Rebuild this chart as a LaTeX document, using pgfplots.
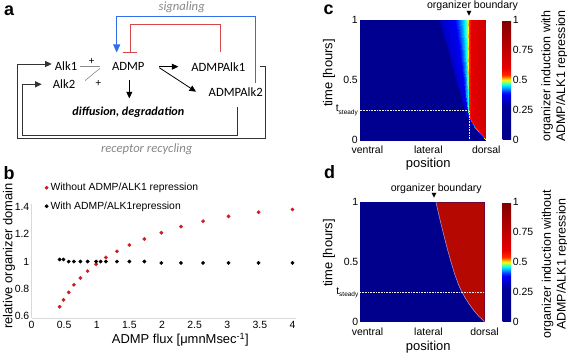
\documentclass[border=0pt]{standalone}
\usepackage{pgfplots}
\pgfplotsset{compat=1.18}
\usepackage{fontspec}
\setmainfont{Liberation Sans}
\newfontfamily\calibri{Carlito}
\newfontfamily\dejavu{DejaVu Sans}
\usetikzlibrary{arrows.meta}
\definecolor{navyc}{RGB}{0,0,140}
\definecolor{redb}{RGB}{205,30,35}
\definecolor{dredd}{RGB}{180,8,0}
\definecolor{bluec}{RGB}{50,110,235}
\definecolor{redc}{RGB}{215,70,70}
\definecolor{grayt}{RGB}{135,135,135}
\definecolor{lav}{RGB}{170,160,230}
\pgfplotsset{colormap={jetx}{rgb255(0pt)=(0,0,140) rgb255(28pt)=(0,0,150) rgb255(33pt)=(0,0,200) rgb255(38pt)=(0,0,245) rgb255(40pt)=(0,40,255) rgb255(46pt)=(0,255,255) rgb255(50pt)=(255,255,0) rgb255(54pt)=(255,40,0) rgb255(60pt)=(230,0,0) rgb255(100pt)=(128,0,0)}}
\newcommand\tl{\fontsize{10.5}{12}\selectfont}
\newcommand\lb{\fontsize{13}{15}\selectfont}
\pgfplotsset{
  mycb/.style={colorbar, colorbar style={at={(parent axis.north east)}, anchor=north west, xshift=#1,
     width=8.7bp, scale only axis, ytick={0,0.25,0.5,0.75,1},
     yticklabel={\pgfmathprintnumber[assume math mode=true]{\tick}},
     yticklabel style={font=\tl, inner sep=1.5bp}, axis line style={draw=none}, major tick length=0}},
  heat/.style={scale only axis, anchor=south west, xmin=0, xmax=1, ymin=0, ymax=1,
     colormap name=jetx, point meta min=0, point meta max=1,
     axis line style={draw=none}, major tick length=0,
     xticklabels={ventral,lateral,dorsal},
     tick label style={font=\tl}, yticklabel style={inner sep=1.5bp},
     xticklabel style={inner sep=0pt, yshift=-6bp}}
}
\begin{document}
\begin{tikzpicture}[x=1bp,y=1bp]
\useasboundingbox (0,0) rectangle (567,355);

% ---------------- panel b ----------------
\begin{axis}[at={(31.5bp,37.3bp)}, anchor=south west, scale only axis,
  width=264.9bp, height=113.7bp,
  xmin=0, xmax=4.06, ymin=0.59, ymax=1.42,
  axis x line*=bottom, axis y line*=left, axis line style={draw=black!15},
  xtick={0,0.5,1,1.5,2,2.5,3,3.5,4}, ytick={0.6,0.8,1,1.2,1.4},
  major tick length=0,
  tick label style={font=\tl},
  xticklabel={\pgfmathprintnumber[assume math mode=true]{\tick}},
  yticklabel={\pgfmathprintnumber[assume math mode=true]{\tick}},
  yticklabel style={inner sep=2bp},
  xlabel={ADMP flux [μmnMsec\textsuperscript{-1}]},
  ylabel={relative organizer domain},
  xlabel style={at={(axis description cs:0.562,-0.196)}, anchor=center, font=\lb},
  ylabel style={at={(axis description cs:-0.085,0.543)}, anchor=center, font=\lb},
  legend image code/.code={\draw[#1] plot coordinates {(0bp,0bp)};},
  legend cell align=left,
  legend style={at={(axis description cs:0.05,1.205)}, anchor=north west, draw=none, fill=none,
     font=\fontsize{10.4}{12}\selectfont, row sep=5bp, inner sep=0pt, nodes={inner sep=2.3bp}},
]
\addplot[only marks, mark=*, mark size=1.7bp, color=redb] coordinates {
(0.43,0.67) (0.49,0.72) (0.57,0.775) (0.65,0.83) (0.75,0.88) (0.86,0.93) (0.99,0.98)
(1.14,1.03) (1.31,1.075) (1.50,1.12) (1.73,1.165) (1.99,1.21) (2.29,1.255) (2.63,1.295)
(3.02,1.33) (3.48,1.36) (4.00,1.38)};
\addplot[only marks, mark=*, mark size=1.7bp, color=black] coordinates {
(0.43,1.015) (0.49,1.015) (0.57,1.0) (0.65,1.0) (0.75,1.0) (0.86,1.0) (0.99,1.0) (1.06,1.0)
(1.14,1.0) (1.31,1.0) (1.50,1.0) (1.73,1.0) (1.99,0.99) (2.29,0.99) (2.63,0.99)
(3.02,0.99) (3.48,0.99) (4.00,0.99)};
\legend{Without ADMP/ALK1 repression, With ADMP/ALK1repression}
\end{axis}

% ---------------- panel c ----------------
\begin{axis}[heat, at={(359.5bp,215bp)}, width=127bp, height=120bp, view={0}{90},
  xtick={0.062,0.542,0.998},
  ytick={0,0.2475,0.5,1}, yticklabels={0,{t\raisebox{-0.4ex}{\fontsize{6.5}{7}\selectfont steady}},0.5,1},
  mycb=7.5bp]
\addplot3[surf, shader=interp, mesh/rows=14, mesh/cols=10, point meta=\thisrow{v}] table[x=x,y=t,z=v] {
x t v
0 1 0.1
0.630 1 0.1
0.633 1 0.33
0.7475 1 0.375
0.800 1 0.43
0.830 1 0.46
0.855 1 0.5
0.862 1 0.54
0.874 1 0.6
1 1 0.7
0 0.9 0.1
0.657 0.9 0.1
0.660 0.9 0.33
0.761 0.9 0.375
0.807 0.9 0.43
0.834 0.9 0.46
0.856 0.9 0.5
0.862 0.9 0.54
0.874 0.9 0.6
1 0.9 0.7
0 0.8 0.1
0.682 0.8 0.1
0.685 0.8 0.33
0.7735 0.8 0.375
0.814 0.8 0.43
0.837 0.8 0.46
0.857 0.8 0.5
0.862 0.8 0.54
0.874 0.8 0.6
1 0.8 0.7
0 0.7 0.1
0.707 0.7 0.1
0.710 0.7 0.33
0.786 0.7 0.375
0.821 0.7 0.43
0.841 0.7 0.46
0.857 0.7 0.5
0.862 0.7 0.54
0.874 0.7 0.6
1 0.7 0.7
0 0.6 0.1
0.732 0.6 0.1
0.735 0.6 0.33
0.7985 0.6 0.375
0.828 0.6 0.43
0.844 0.6 0.46
0.858 0.6 0.5
0.862 0.6 0.54
0.874 0.6 0.6
1 0.6 0.7
0 0.5 0.1
0.759 0.5 0.1
0.762 0.5 0.33
0.812 0.5 0.375
0.835 0.5 0.43
0.848 0.5 0.46
0.859 0.5 0.5
0.862 0.5 0.54
0.874 0.5 0.6
1 0.5 0.7
0 0.4 0.1
0.785 0.4 0.1
0.788 0.4 0.33
0.825 0.4 0.375
0.842 0.4 0.43
0.852 0.4 0.46
0.860 0.4 0.5
0.862 0.4 0.54
0.874 0.4 0.6
1 0.4 0.7
0 0.3 0.1
0.809 0.3 0.1
0.812 0.3 0.33
0.837 0.3 0.375
0.8485 0.3 0.43
0.855 0.3 0.46
0.8605 0.3 0.5
0.862 0.3 0.54
0.874 0.3 0.6
1 0.3 0.7
0 0.25 0.1
0.825 0.25 0.1
0.828 0.25 0.33
0.845 0.25 0.375
0.8528 0.25 0.43
0.8572 0.25 0.46
0.861 0.25 0.5
0.862 0.25 0.54
0.874 0.25 0.6
1 0.25 0.7
0 0.2 0.1
0.845 0.2 0.1
0.848 0.2 0.33
0.856 0.2 0.375
0.8597 0.2 0.43
0.8618 0.2 0.46
0.8635 0.2 0.5
0.864 0.2 0.54
0.876 0.2 0.6
1 0.2 0.7
0 0.15 0.1
0.872 0.15 0.1
0.875 0.15 0.33
0.880 0.15 0.375
0.8823 0.15 0.43
0.8836 0.15 0.46
0.8847 0.15 0.5
0.885 0.15 0.54
0.897 0.15 0.6
1 0.15 0.7
0 0.1 0.1
0.905 0.1 0.1
0.908 0.1 0.33
0.9115 0.1 0.375
0.9131 0.1 0.43
0.914 0.1 0.46
0.9148 0.1 0.5
0.915 0.1 0.54
0.927 0.1 0.6
1 0.1 0.7
0 0.05 0.1
0.947 0.05 0.1
0.950 0.05 0.33
0.9525 0.05 0.375
0.9537 0.05 0.43
0.9543 0.05 0.46
0.9549 0.05 0.5
0.955 0.05 0.54
0.967 0.05 0.6
1 0.05 0.7
0 0 0.1
0.994 0 0.1
0.997 0 0.33
0.9985 0 0.375
0.9992 0 0.43
0.9996 0 0.46
0.9999 0 0.5
1 0 0.54
1 0 0.6
1 0 0.7
};
\addplot3[white!85!gray, densely dotted, line width=0.6bp] coordinates {(0,0.2475,1) (0.861,0.2475,1) (0.861,0,1)};
\end{axis}

% ---------------- panel d ----------------
\begin{axis}[heat, at={(360bp,33.3bp)}, width=124.5bp, height=119.4bp,
  axis background/.style={fill=navyc},
  xtick={0.06,0.55,1},
  ytick={0,0.243,0.5,1}, yticklabels={0,{t\raisebox{-0.4ex}{\fontsize{6.5}{7}\selectfont steady}},0.5,1},
  mycb=9.5bp]
\addplot[fill=dredd, draw=none] table {
x t
0.610 1.00
0.632 0.90
0.655 0.80
0.679 0.70
0.704 0.60
0.731 0.50
0.760 0.40
0.795 0.30
0.818 0.25
0.845 0.20
0.875 0.15
0.910 0.10
0.950 0.05
1.000 0.00
1.000 1.00
} -- cycle;
\addplot[draw=lav, line width=0.5bp] table {
x t
0.610 1.00
0.632 0.90
0.655 0.80
0.679 0.70
0.704 0.60
0.731 0.50
0.760 0.40
0.795 0.30
0.818 0.25
0.845 0.20
0.875 0.15
0.910 0.10
0.950 0.05
1.000 0.00
};
\addplot[white!85!gray, densely dotted, line width=0.6bp] coordinates {(0,0.243) (1,0.243)};
\end{axis}

% ---------------- texts and diagram (pixel coordinates, y down) ----------------
\begin{scope}[x=1bp,y=-1bp,yshift=355bp]
\node[font=\fontsize{18}{18}\selectfont\bfseries] at (9,11) {a};
\node[font=\fontsize{18}{18}\selectfont\bfseries] at (9,173) {b};
\node[font=\fontsize{18}{18}\selectfont\bfseries] at (328.5,10) {c};
\node[font=\fontsize{18}{18}\selectfont\bfseries] at (329.5,172) {d};

% c / d annotations
\node[font=\fontsize{10.6}{12}\selectfont] at (472.5,6) {organizer boundary};
\node[font=\dejavu\fontsize{6.5}{7}\selectfont, inner sep=0pt] at (469,13.8) {▼};
\node[font=\fontsize{10.6}{12}\selectfont] at (436.3,188.3) {organizer boundary};
\node[font=\dejavu\fontsize{6.5}{7}\selectfont, inner sep=0pt] at (434,196) {▼};
\node[font=\lb] at (428.3,164.5) {position};
\node[font=\lb] at (428.3,347.5) {position};
\node[font=\lb, rotate=90] at (329,73) {time [hours]};
\node[font=\lb, rotate=90] at (329,253) {time [hours]};
\node[font=\fontsize{12.5}{15}\selectfont, rotate=90, align=center] at (554.5,76) {organizer induction with\\ADMP/ALK1 repression};
\node[font=\fontsize{12.5}{15}\selectfont, rotate=90, align=center] at (555,264) {organizer induction without\\ADMP/ALK1 repression};

% diagram a
\begin{scope}[line width=0.8bp]
\draw[bluec, line width=0.9bp, -{Triangle[length=8bp,width=7bp]}] (255,83.3) -- (255,16) -- (116.7,16) -- (116.7,52.5);
\draw[redc, line width=0.9bp] (220,51.7) -- (220,24) -- (130,24) -- (130,52.3);
\draw[redc, line width=0.9bp] (122.7,52.3) -- (136.7,52.3);
\draw[black!80, -{Triangle[length=6.5bp,width=6bp]}] (260,66.7) -- (265.7,66.7) -- (265.7,138.3) -- (17.3,138.3) -- (17.3,64) -- (51.7,64);
\draw[black!80, -{Triangle[length=6.5bp,width=6bp]}] (237.3,106.7) -- (237.3,135) -- (22.7,135) -- (22.7,84.3) -- (41.7,84.3);
\draw[black, -{Triangle[length=6.5bp,width=6bp]}] (129.3,80) -- (129.3,98.3);
\draw[black, -{Triangle[length=6.5bp,width=6bp]}] (159.3,66.7) -- (178.3,66.7);
\draw[black, -{Triangle[length=6.5bp,width=6bp]}] (159.3,67.7) -- (196,91.7);
\draw[black!45, line width=0.6bp] (80,66.5) -- (100,66.5);
\draw[black!45, line width=0.6bp] (85,80.7) -- (100,68.3);
\end{scope}
\begin{scope}[font=\calibri\fontsize{12.7}{14}\selectfont]
\node at (66,65.7) {Alk1};
\node at (64,84) {Alk2};
\node at (128.3,66.7) {ADMP};
\node at (218.3,66.7) {ADMPAlk1};
\node at (235.7,92.3) {ADMPAlk2};
\node[font=\calibri\fontsize{12.2}{14}\selectfont\bfseries\itshape] at (128.3,112.7) {diffusion, degradation};
\node[font=\calibri\fontsize{12.7}{14}\selectfont\itshape, text=grayt] at (181.7,7) {signaling};
\node[font=\calibri\fontsize{12.7}{14}\selectfont\itshape, text=grayt] at (146.7,149) {receptor recycling};
\node[font=\calibri\fontsize{11}{12}\selectfont] at (91.7,61.5) {+};
\node[font=\calibri\fontsize{11}{12}\selectfont] at (98.3,83.3) {+};
\end{scope}
\end{scope}
\end{tikzpicture}
\end{document}
